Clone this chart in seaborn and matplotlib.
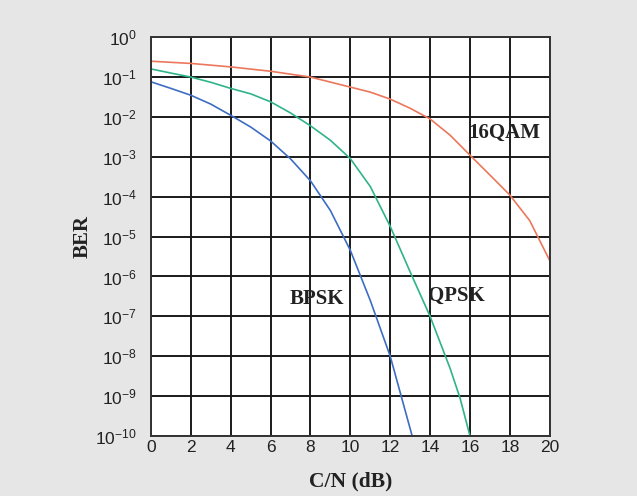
import numpy as np
import pandas as pd
import seaborn as sns
import matplotlib.pyplot as plt

# values (C/N in dB, BER)
bpsk_cn = [0, 1, 2, 3, 4, 5, 6, 7, 8, 9, 10, 11, 12, 12.55, 13.1]
bpsk_ber = [7.6e-2, 5.2e-2, 3.5e-2, 2.1e-2, 1.1e-2, 5.6e-3, 2.5e-3, 8.9e-4,
            2.5e-4, 4.5e-5, 4.5e-6, 2.5e-7, 1e-8, 1e-9, 1e-10]

qpsk_cn = [0, 1, 2, 3, 4, 5, 6, 7, 8, 9, 10, 11, 12, 13, 14, 15, 15.5, 16]
qpsk_ber = [1.6e-1, 1.26e-1, 1e-1, 7.4e-2, 5.2e-2, 3.8e-2, 2.4e-2, 1.26e-2,
            6e-3, 2.6e-3, 9e-4, 1.8e-4, 1.8e-5, 1.3e-6, 1e-7, 5e-9,
            9e-10, 1e-10]

qam_cn = [0, 2, 4, 6, 8, 10, 11, 12, 13, 14, 15, 16, 17, 18, 19, 20]
qam_ber = [2.5e-1, 2.2e-1, 1.8e-1, 1.4e-1, 1e-1, 5.6e-2, 4.2e-2, 2.8e-2,
           1.65e-2, 8.9e-3, 3.5e-3, 1.1e-3, 3.5e-4, 1.1e-4, 2.5e-5, 2.5e-6]

schemes = ['BPSK', 'QPSK', '16QAM']
colors = ['#3d6dc3', '#2fb38b', '#ec775c']

df = pd.concat([
    pd.DataFrame({'cn': bpsk_cn, 'ber': bpsk_ber, 'scheme': 'BPSK'}),
    pd.DataFrame({'cn': qpsk_cn, 'ber': qpsk_ber, 'scheme': 'QPSK'}),
    pd.DataFrame({'cn': qam_cn, 'ber': qam_ber, 'scheme': '16QAM'}),
])

sns.set_style('white')
plt.rcParams['font.family'] = ['Liberation Sans', 'DejaVu Sans']

fig = plt.figure(figsize=(6.37, 4.96), dpi=100, facecolor='#e6e6e7')
ax = fig.add_axes([0.237, 0.121, 0.626, 0.804])
ax.set_facecolor('white')

sns.lineplot(data=df, x='cn', y='ber', hue='scheme', hue_order=schemes,
             palette=colors, linewidth=1.2, legend=False, ax=ax, sort=False)

ax.set_yscale('log')
ax.set_xlim(0, 20)
ax.set_ylim(1e-10, 1)
ax.set_xticks(range(0, 21, 2))
ax.set_yticks([10.0 ** e for e in range(-10, 1)])
ax.minorticks_off()
ax.grid(True, color='#1a1a1a', linewidth=1.4)
for s in ax.spines.values():
    s.set_color('#333333')
    s.set_linewidth(1.4)
ax.tick_params(axis='both', length=0, labelsize=12.5, colors='#222222')
ax.tick_params(axis='y', pad=10)
ax.tick_params(axis='x', pad=3)

serif = dict(family=['Liberation Serif', 'DejaVu Serif'], fontweight='bold', color='#222222')
ax.set_xlabel('C/N (dB)', fontsize=15.5, labelpad=12, **serif)
ax.set_ylabel('BER', fontsize=15, labelpad=2, **serif)

label_pos = {'16QAM': (17.75, 4e-3), 'QPSK': (15.3, 3.3e-7), 'BPSK': (8.3, 2.8e-7)}
for name in schemes:
    x, y = label_pos[name]
    ax.text(x, y, name, fontsize=15, ha='center', va='center', **serif)

fig.savefig('out.png', dpi=100, facecolor=fig.get_facecolor())
